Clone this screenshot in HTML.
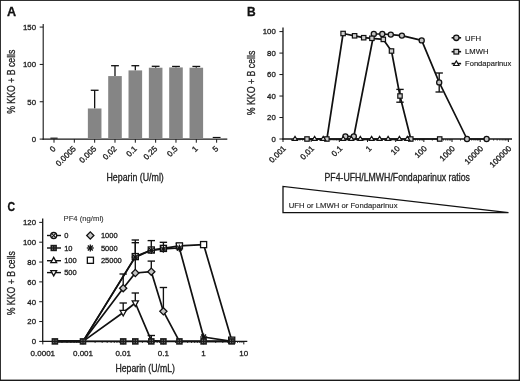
<!DOCTYPE html>
<html><head><meta charset="utf-8"><title>Figure</title><style>html,body{margin:0;padding:0;background:#fff;}svg{display:block;filter:grayscale(1) blur(0.3px);}</style></head><body>
<svg width="520" height="381" viewBox="0 0 520 381" font-family="Liberation Sans, sans-serif">
<rect x="0" y="0" width="520" height="381" fill="#fff"/>
<rect x="0" y="0" width="520" height="0.9" fill="#1a1a1a"/>
<rect x="0" y="0" width="0.9" height="381" fill="#1a1a1a"/>
<rect x="518.7" y="0" width="1.3" height="381" fill="#1a1a1a"/>
<rect x="0" y="379.6" width="520" height="1.4" fill="#1a1a1a"/>
<text x="6.9" y="15.7" font-size="12.6" text-anchor="start" fill="#111" stroke="#111" stroke-width="0.3" font-weight="bold">A</text>
<text x="247" y="15.7" font-size="12" text-anchor="start" fill="#111" stroke="#111" stroke-width="0.3" font-weight="bold">B</text>
<text x="7.6" y="210.8" font-size="12" text-anchor="start" fill="#111" stroke="#111" stroke-width="0.3" textLength="7.6" lengthAdjust="spacingAndGlyphs" font-weight="bold">C</text>
<line x1="43.20" y1="24.00" x2="43.20" y2="139.65" stroke="#161616" stroke-width="1.1" stroke-linecap="butt"/>
<line x1="42.65" y1="139.10" x2="227.30" y2="139.10" stroke="#161616" stroke-width="1.1" stroke-linecap="butt"/>
<line x1="39.70" y1="139.10" x2="43.20" y2="139.10" stroke="#161616" stroke-width="1" stroke-linecap="butt"/>
<text x="36" y="141.9" font-size="7.8" text-anchor="end" fill="#222" stroke="#222" stroke-width="0.3">0</text>
<line x1="39.70" y1="101.76" x2="43.20" y2="101.76" stroke="#161616" stroke-width="1" stroke-linecap="butt"/>
<text x="36" y="104.56499999999998" font-size="7.8" text-anchor="end" fill="#222" stroke="#222" stroke-width="0.3">50</text>
<line x1="39.70" y1="64.43" x2="43.20" y2="64.43" stroke="#161616" stroke-width="1" stroke-linecap="butt"/>
<text x="36" y="67.22999999999999" font-size="7.8" text-anchor="end" fill="#222" stroke="#222" stroke-width="0.3">100</text>
<line x1="39.70" y1="27.09" x2="43.20" y2="27.09" stroke="#161616" stroke-width="1" stroke-linecap="butt"/>
<text x="36" y="29.894999999999985" font-size="7.8" text-anchor="end" fill="#222" stroke="#222" stroke-width="0.3">150</text>
<line x1="54.00" y1="139.10" x2="54.00" y2="142.70" stroke="#161616" stroke-width="1" stroke-linecap="butt"/>
<rect x="50.40" y="137.60" width="7.2" height="1.1" fill="#111"/>
<text x="56.2" y="149.2" font-size="8.1" text-anchor="end" fill="#222" stroke="#222" stroke-width="0.3" transform="rotate(-45 56.2 149.2)">0</text>
<line x1="74.33" y1="139.10" x2="74.33" y2="142.70" stroke="#161616" stroke-width="1" stroke-linecap="butt"/>
<text x="76.53" y="149.2" font-size="8.1" text-anchor="end" fill="#222" stroke="#222" stroke-width="0.3" transform="rotate(-45 76.53 149.2)">0.0005</text>
<line x1="94.66" y1="139.10" x2="94.66" y2="142.70" stroke="#161616" stroke-width="1" stroke-linecap="butt"/>
<line x1="94.66" y1="108.49" x2="94.66" y2="90.27" stroke="#111" stroke-width="1.3" stroke-linecap="butt"/>
<line x1="90.76" y1="90.27" x2="98.56" y2="90.27" stroke="#111" stroke-width="1.3" stroke-linecap="butt"/>
<rect x="87.86" y="108.49" width="13.6" height="30.11" fill="#858585"/>
<text x="96.86" y="149.2" font-size="8.1" text-anchor="end" fill="#222" stroke="#222" stroke-width="0.3" transform="rotate(-45 96.86 149.2)">0.005</text>
<line x1="114.99" y1="139.10" x2="114.99" y2="142.70" stroke="#161616" stroke-width="1" stroke-linecap="butt"/>
<line x1="114.99" y1="76.08" x2="114.99" y2="65.70" stroke="#111" stroke-width="1.3" stroke-linecap="butt"/>
<line x1="111.09" y1="65.70" x2="118.89" y2="65.70" stroke="#111" stroke-width="1.3" stroke-linecap="butt"/>
<rect x="108.19" y="76.08" width="13.6" height="62.52" fill="#858585"/>
<text x="117.19" y="149.2" font-size="8.1" text-anchor="end" fill="#222" stroke="#222" stroke-width="0.3" transform="rotate(-45 117.19 149.2)">0.02</text>
<line x1="135.32" y1="139.10" x2="135.32" y2="142.70" stroke="#161616" stroke-width="1" stroke-linecap="butt"/>
<line x1="135.32" y1="70.40" x2="135.32" y2="65.70" stroke="#111" stroke-width="1.3" stroke-linecap="butt"/>
<line x1="131.42" y1="65.70" x2="139.22" y2="65.70" stroke="#111" stroke-width="1.3" stroke-linecap="butt"/>
<rect x="128.52" y="70.40" width="13.6" height="68.20" fill="#858585"/>
<text x="137.52" y="149.2" font-size="8.1" text-anchor="end" fill="#222" stroke="#222" stroke-width="0.3" transform="rotate(-45 137.52 149.2)">0.1</text>
<line x1="155.65" y1="139.10" x2="155.65" y2="142.70" stroke="#161616" stroke-width="1" stroke-linecap="butt"/>
<line x1="155.65" y1="67.72" x2="155.65" y2="66.30" stroke="#111" stroke-width="1.3" stroke-linecap="butt"/>
<line x1="151.75" y1="66.30" x2="159.55" y2="66.30" stroke="#111" stroke-width="1.3" stroke-linecap="butt"/>
<rect x="148.85" y="67.72" width="13.6" height="70.88" fill="#858585"/>
<text x="157.85" y="149.2" font-size="8.1" text-anchor="end" fill="#222" stroke="#222" stroke-width="0.3" transform="rotate(-45 157.85 149.2)">0.25</text>
<line x1="175.98" y1="139.10" x2="175.98" y2="142.70" stroke="#161616" stroke-width="1" stroke-linecap="butt"/>
<line x1="175.98" y1="67.42" x2="175.98" y2="66.45" stroke="#111" stroke-width="1.3" stroke-linecap="butt"/>
<line x1="172.08" y1="66.45" x2="179.88" y2="66.45" stroke="#111" stroke-width="1.3" stroke-linecap="butt"/>
<rect x="169.18" y="67.42" width="13.6" height="71.18" fill="#858585"/>
<text x="178.18" y="149.2" font-size="8.1" text-anchor="end" fill="#222" stroke="#222" stroke-width="0.3" transform="rotate(-45 178.18 149.2)">0.5</text>
<line x1="196.31" y1="139.10" x2="196.31" y2="142.70" stroke="#161616" stroke-width="1" stroke-linecap="butt"/>
<line x1="196.31" y1="67.72" x2="196.31" y2="66.45" stroke="#111" stroke-width="1.3" stroke-linecap="butt"/>
<line x1="192.41" y1="66.45" x2="200.21" y2="66.45" stroke="#111" stroke-width="1.3" stroke-linecap="butt"/>
<rect x="189.51" y="67.72" width="13.6" height="70.88" fill="#858585"/>
<text x="198.51" y="149.2" font-size="8.1" text-anchor="end" fill="#222" stroke="#222" stroke-width="0.3" transform="rotate(-45 198.51 149.2)">1</text>
<line x1="216.64" y1="139.10" x2="216.64" y2="142.70" stroke="#161616" stroke-width="1" stroke-linecap="butt"/>
<rect x="212.74" y="136.90" width="7.8" height="1.1" fill="#111"/>
<rect x="209.84" y="138.00" width="13.6" height="0.7" fill="#999"/>
<text x="218.84" y="149.2" font-size="8.1" text-anchor="end" fill="#222" stroke="#222" stroke-width="0.3" transform="rotate(-45 218.84 149.2)">5</text>
<text x="106.5" y="181.3" font-size="10.2" text-anchor="start" fill="#222" stroke="#222" stroke-width="0.3" textLength="57.3" lengthAdjust="spacingAndGlyphs">Heparin (U/ml)</text>
<text x="15.4" y="113.8" font-size="10.2" text-anchor="start" fill="#222" stroke="#222" stroke-width="0.3" textLength="64.2" lengthAdjust="spacingAndGlyphs" transform="rotate(-90 15.4 113.8)">% KKO + B cells</text>
<line x1="283.00" y1="27.50" x2="283.00" y2="139.60" stroke="#161616" stroke-width="1.3" stroke-linecap="butt"/>
<line x1="282.40" y1="139.00" x2="512.00" y2="139.00" stroke="#161616" stroke-width="1.3" stroke-linecap="butt"/>
<line x1="279.40" y1="139.00" x2="283.00" y2="139.00" stroke="#161616" stroke-width="1" stroke-linecap="butt"/>
<text x="275.8" y="141.8" font-size="7.8" text-anchor="end" fill="#222" stroke="#222" stroke-width="0.3">0</text>
<line x1="279.40" y1="117.52" x2="283.00" y2="117.52" stroke="#161616" stroke-width="1" stroke-linecap="butt"/>
<text x="275.8" y="120.32" font-size="7.8" text-anchor="end" fill="#222" stroke="#222" stroke-width="0.3">20</text>
<line x1="279.40" y1="96.04" x2="283.00" y2="96.04" stroke="#161616" stroke-width="1" stroke-linecap="butt"/>
<text x="275.8" y="98.83999999999999" font-size="7.8" text-anchor="end" fill="#222" stroke="#222" stroke-width="0.3">40</text>
<line x1="279.40" y1="74.56" x2="283.00" y2="74.56" stroke="#161616" stroke-width="1" stroke-linecap="butt"/>
<text x="275.8" y="77.36" font-size="7.8" text-anchor="end" fill="#222" stroke="#222" stroke-width="0.3">60</text>
<line x1="279.40" y1="53.08" x2="283.00" y2="53.08" stroke="#161616" stroke-width="1" stroke-linecap="butt"/>
<text x="275.8" y="55.879999999999995" font-size="7.8" text-anchor="end" fill="#222" stroke="#222" stroke-width="0.3">80</text>
<line x1="279.40" y1="31.60" x2="283.00" y2="31.60" stroke="#161616" stroke-width="1" stroke-linecap="butt"/>
<text x="275.8" y="34.39999999999999" font-size="7.8" text-anchor="end" fill="#222" stroke="#222" stroke-width="0.3">100</text>
<line x1="283.00" y1="139.00" x2="283.00" y2="142.00" stroke="#161616" stroke-width="1" stroke-linecap="butt"/>
<line x1="291.48" y1="139.00" x2="291.48" y2="140.60" stroke="#161616" stroke-width="0.8" stroke-linecap="butt"/>
<line x1="296.44" y1="139.00" x2="296.44" y2="140.60" stroke="#161616" stroke-width="0.8" stroke-linecap="butt"/>
<line x1="299.96" y1="139.00" x2="299.96" y2="140.60" stroke="#161616" stroke-width="0.8" stroke-linecap="butt"/>
<line x1="302.69" y1="139.00" x2="302.69" y2="140.60" stroke="#161616" stroke-width="0.8" stroke-linecap="butt"/>
<line x1="304.92" y1="139.00" x2="304.92" y2="140.60" stroke="#161616" stroke-width="0.8" stroke-linecap="butt"/>
<line x1="306.81" y1="139.00" x2="306.81" y2="140.60" stroke="#161616" stroke-width="0.8" stroke-linecap="butt"/>
<line x1="308.44" y1="139.00" x2="308.44" y2="140.60" stroke="#161616" stroke-width="0.8" stroke-linecap="butt"/>
<line x1="309.88" y1="139.00" x2="309.88" y2="140.60" stroke="#161616" stroke-width="0.8" stroke-linecap="butt"/>
<text x="286.5" y="149.0" font-size="8.1" text-anchor="end" fill="#222" stroke="#222" stroke-width="0.3" transform="rotate(-45 286.5 149.0)">0.001</text>
<line x1="311.17" y1="139.00" x2="311.17" y2="142.00" stroke="#161616" stroke-width="1" stroke-linecap="butt"/>
<line x1="319.65" y1="139.00" x2="319.65" y2="140.60" stroke="#161616" stroke-width="0.8" stroke-linecap="butt"/>
<line x1="324.61" y1="139.00" x2="324.61" y2="140.60" stroke="#161616" stroke-width="0.8" stroke-linecap="butt"/>
<line x1="328.13" y1="139.00" x2="328.13" y2="140.60" stroke="#161616" stroke-width="0.8" stroke-linecap="butt"/>
<line x1="330.86" y1="139.00" x2="330.86" y2="140.60" stroke="#161616" stroke-width="0.8" stroke-linecap="butt"/>
<line x1="333.09" y1="139.00" x2="333.09" y2="140.60" stroke="#161616" stroke-width="0.8" stroke-linecap="butt"/>
<line x1="334.98" y1="139.00" x2="334.98" y2="140.60" stroke="#161616" stroke-width="0.8" stroke-linecap="butt"/>
<line x1="336.61" y1="139.00" x2="336.61" y2="140.60" stroke="#161616" stroke-width="0.8" stroke-linecap="butt"/>
<line x1="338.05" y1="139.00" x2="338.05" y2="140.60" stroke="#161616" stroke-width="0.8" stroke-linecap="butt"/>
<text x="314.67" y="149.0" font-size="8.1" text-anchor="end" fill="#222" stroke="#222" stroke-width="0.3" transform="rotate(-45 314.67 149.0)">0.01</text>
<line x1="339.34" y1="139.00" x2="339.34" y2="142.00" stroke="#161616" stroke-width="1" stroke-linecap="butt"/>
<line x1="347.82" y1="139.00" x2="347.82" y2="140.60" stroke="#161616" stroke-width="0.8" stroke-linecap="butt"/>
<line x1="352.78" y1="139.00" x2="352.78" y2="140.60" stroke="#161616" stroke-width="0.8" stroke-linecap="butt"/>
<line x1="356.30" y1="139.00" x2="356.30" y2="140.60" stroke="#161616" stroke-width="0.8" stroke-linecap="butt"/>
<line x1="359.03" y1="139.00" x2="359.03" y2="140.60" stroke="#161616" stroke-width="0.8" stroke-linecap="butt"/>
<line x1="361.26" y1="139.00" x2="361.26" y2="140.60" stroke="#161616" stroke-width="0.8" stroke-linecap="butt"/>
<line x1="363.15" y1="139.00" x2="363.15" y2="140.60" stroke="#161616" stroke-width="0.8" stroke-linecap="butt"/>
<line x1="364.78" y1="139.00" x2="364.78" y2="140.60" stroke="#161616" stroke-width="0.8" stroke-linecap="butt"/>
<line x1="366.22" y1="139.00" x2="366.22" y2="140.60" stroke="#161616" stroke-width="0.8" stroke-linecap="butt"/>
<text x="342.84" y="149.0" font-size="8.1" text-anchor="end" fill="#222" stroke="#222" stroke-width="0.3" transform="rotate(-45 342.84 149.0)">0.1</text>
<line x1="367.51" y1="139.00" x2="367.51" y2="142.00" stroke="#161616" stroke-width="1" stroke-linecap="butt"/>
<line x1="375.99" y1="139.00" x2="375.99" y2="140.60" stroke="#161616" stroke-width="0.8" stroke-linecap="butt"/>
<line x1="380.95" y1="139.00" x2="380.95" y2="140.60" stroke="#161616" stroke-width="0.8" stroke-linecap="butt"/>
<line x1="384.47" y1="139.00" x2="384.47" y2="140.60" stroke="#161616" stroke-width="0.8" stroke-linecap="butt"/>
<line x1="387.20" y1="139.00" x2="387.20" y2="140.60" stroke="#161616" stroke-width="0.8" stroke-linecap="butt"/>
<line x1="389.43" y1="139.00" x2="389.43" y2="140.60" stroke="#161616" stroke-width="0.8" stroke-linecap="butt"/>
<line x1="391.32" y1="139.00" x2="391.32" y2="140.60" stroke="#161616" stroke-width="0.8" stroke-linecap="butt"/>
<line x1="392.95" y1="139.00" x2="392.95" y2="140.60" stroke="#161616" stroke-width="0.8" stroke-linecap="butt"/>
<line x1="394.39" y1="139.00" x2="394.39" y2="140.60" stroke="#161616" stroke-width="0.8" stroke-linecap="butt"/>
<text x="372.21" y="149.0" font-size="8.1" text-anchor="end" fill="#222" stroke="#222" stroke-width="0.3" transform="rotate(-45 372.21 149.0)">1</text>
<line x1="395.68" y1="139.00" x2="395.68" y2="142.00" stroke="#161616" stroke-width="1" stroke-linecap="butt"/>
<line x1="404.16" y1="139.00" x2="404.16" y2="140.60" stroke="#161616" stroke-width="0.8" stroke-linecap="butt"/>
<line x1="409.12" y1="139.00" x2="409.12" y2="140.60" stroke="#161616" stroke-width="0.8" stroke-linecap="butt"/>
<line x1="412.64" y1="139.00" x2="412.64" y2="140.60" stroke="#161616" stroke-width="0.8" stroke-linecap="butt"/>
<line x1="415.37" y1="139.00" x2="415.37" y2="140.60" stroke="#161616" stroke-width="0.8" stroke-linecap="butt"/>
<line x1="417.60" y1="139.00" x2="417.60" y2="140.60" stroke="#161616" stroke-width="0.8" stroke-linecap="butt"/>
<line x1="419.49" y1="139.00" x2="419.49" y2="140.60" stroke="#161616" stroke-width="0.8" stroke-linecap="butt"/>
<line x1="421.12" y1="139.00" x2="421.12" y2="140.60" stroke="#161616" stroke-width="0.8" stroke-linecap="butt"/>
<line x1="422.56" y1="139.00" x2="422.56" y2="140.60" stroke="#161616" stroke-width="0.8" stroke-linecap="butt"/>
<text x="400.38" y="149.0" font-size="8.1" text-anchor="end" fill="#222" stroke="#222" stroke-width="0.3" transform="rotate(-45 400.38 149.0)">10</text>
<line x1="423.85" y1="139.00" x2="423.85" y2="142.00" stroke="#161616" stroke-width="1" stroke-linecap="butt"/>
<line x1="432.33" y1="139.00" x2="432.33" y2="140.60" stroke="#161616" stroke-width="0.8" stroke-linecap="butt"/>
<line x1="437.29" y1="139.00" x2="437.29" y2="140.60" stroke="#161616" stroke-width="0.8" stroke-linecap="butt"/>
<line x1="440.81" y1="139.00" x2="440.81" y2="140.60" stroke="#161616" stroke-width="0.8" stroke-linecap="butt"/>
<line x1="443.54" y1="139.00" x2="443.54" y2="140.60" stroke="#161616" stroke-width="0.8" stroke-linecap="butt"/>
<line x1="445.77" y1="139.00" x2="445.77" y2="140.60" stroke="#161616" stroke-width="0.8" stroke-linecap="butt"/>
<line x1="447.66" y1="139.00" x2="447.66" y2="140.60" stroke="#161616" stroke-width="0.8" stroke-linecap="butt"/>
<line x1="449.29" y1="139.00" x2="449.29" y2="140.60" stroke="#161616" stroke-width="0.8" stroke-linecap="butt"/>
<line x1="450.73" y1="139.00" x2="450.73" y2="140.60" stroke="#161616" stroke-width="0.8" stroke-linecap="butt"/>
<text x="427.35" y="149.0" font-size="8.1" text-anchor="end" fill="#222" stroke="#222" stroke-width="0.3" transform="rotate(-45 427.35 149.0)">100</text>
<line x1="452.02" y1="139.00" x2="452.02" y2="142.00" stroke="#161616" stroke-width="1" stroke-linecap="butt"/>
<line x1="460.50" y1="139.00" x2="460.50" y2="140.60" stroke="#161616" stroke-width="0.8" stroke-linecap="butt"/>
<line x1="465.46" y1="139.00" x2="465.46" y2="140.60" stroke="#161616" stroke-width="0.8" stroke-linecap="butt"/>
<line x1="468.98" y1="139.00" x2="468.98" y2="140.60" stroke="#161616" stroke-width="0.8" stroke-linecap="butt"/>
<line x1="471.71" y1="139.00" x2="471.71" y2="140.60" stroke="#161616" stroke-width="0.8" stroke-linecap="butt"/>
<line x1="473.94" y1="139.00" x2="473.94" y2="140.60" stroke="#161616" stroke-width="0.8" stroke-linecap="butt"/>
<line x1="475.83" y1="139.00" x2="475.83" y2="140.60" stroke="#161616" stroke-width="0.8" stroke-linecap="butt"/>
<line x1="477.46" y1="139.00" x2="477.46" y2="140.60" stroke="#161616" stroke-width="0.8" stroke-linecap="butt"/>
<line x1="478.90" y1="139.00" x2="478.90" y2="140.60" stroke="#161616" stroke-width="0.8" stroke-linecap="butt"/>
<text x="455.52" y="149.0" font-size="8.1" text-anchor="end" fill="#222" stroke="#222" stroke-width="0.3" transform="rotate(-45 455.52 149.0)">1000</text>
<line x1="480.19" y1="139.00" x2="480.19" y2="142.00" stroke="#161616" stroke-width="1" stroke-linecap="butt"/>
<line x1="488.67" y1="139.00" x2="488.67" y2="140.60" stroke="#161616" stroke-width="0.8" stroke-linecap="butt"/>
<line x1="493.63" y1="139.00" x2="493.63" y2="140.60" stroke="#161616" stroke-width="0.8" stroke-linecap="butt"/>
<line x1="497.15" y1="139.00" x2="497.15" y2="140.60" stroke="#161616" stroke-width="0.8" stroke-linecap="butt"/>
<line x1="499.88" y1="139.00" x2="499.88" y2="140.60" stroke="#161616" stroke-width="0.8" stroke-linecap="butt"/>
<line x1="502.11" y1="139.00" x2="502.11" y2="140.60" stroke="#161616" stroke-width="0.8" stroke-linecap="butt"/>
<line x1="504.00" y1="139.00" x2="504.00" y2="140.60" stroke="#161616" stroke-width="0.8" stroke-linecap="butt"/>
<line x1="505.63" y1="139.00" x2="505.63" y2="140.60" stroke="#161616" stroke-width="0.8" stroke-linecap="butt"/>
<line x1="507.07" y1="139.00" x2="507.07" y2="140.60" stroke="#161616" stroke-width="0.8" stroke-linecap="butt"/>
<text x="483.69" y="149.0" font-size="8.1" text-anchor="end" fill="#222" stroke="#222" stroke-width="0.3" transform="rotate(-45 483.69 149.0)">10000</text>
<line x1="508.36" y1="139.00" x2="508.36" y2="142.00" stroke="#161616" stroke-width="1" stroke-linecap="butt"/>
<text x="511.86" y="149.0" font-size="8.1" text-anchor="end" fill="#222" stroke="#222" stroke-width="0.3" transform="rotate(-45 511.86 149.0)">100000</text>
<text x="324.5" y="180.9" font-size="10.2" text-anchor="start" fill="#222" stroke="#222" stroke-width="0.3" textLength="145.4" lengthAdjust="spacingAndGlyphs">PF4-UFH/LMWH/Fondaparinux ratios</text>
<text x="254.7" y="115.2" font-size="10.2" text-anchor="start" fill="#222" stroke="#222" stroke-width="0.3" textLength="64.5" lengthAdjust="spacingAndGlyphs" transform="rotate(-90 254.7 115.2)">% KKO + B cells</text>
<polyline points="295.00,139.00 314.60,139.00 323.20,139.00 343.20,139.00 351.30,139.00 360.30,139.00 371.60,139.00 379.60,139.00 388.10,139.00 399.40,139.00 407.30,139.00" fill="none" stroke="#111" stroke-width="1.6" stroke-linejoin="round"/>
<polyline points="345.40,136.40 353.80,136.50 373.80,34.00 382.30,34.00 390.80,34.60 401.90,35.60 421.70,40.40 439.20,82.40 467.00,139.00 486.60,139.00" fill="none" stroke="#111" stroke-width="1.7" stroke-linejoin="round"/>
<line x1="439.20" y1="82.40" x2="439.20" y2="73.00" stroke="#111" stroke-width="1.35" stroke-linecap="butt"/>
<line x1="435.50" y1="73.00" x2="442.90" y2="73.00" stroke="#111" stroke-width="1.35" stroke-linecap="butt"/>
<line x1="439.20" y1="82.40" x2="439.20" y2="92.00" stroke="#111" stroke-width="1.35" stroke-linecap="butt"/>
<line x1="435.50" y1="92.00" x2="442.90" y2="92.00" stroke="#111" stroke-width="1.35" stroke-linecap="butt"/>
<circle cx="345.40" cy="136.40" r="2.55" fill="#c4c4c4" stroke="#111" stroke-width="1.3"/>
<circle cx="353.80" cy="136.50" r="2.55" fill="#c4c4c4" stroke="#111" stroke-width="1.3"/>
<circle cx="373.80" cy="34.00" r="2.55" fill="#c4c4c4" stroke="#111" stroke-width="1.3"/>
<circle cx="382.30" cy="34.00" r="2.55" fill="#c4c4c4" stroke="#111" stroke-width="1.3"/>
<circle cx="390.80" cy="34.60" r="2.55" fill="#c4c4c4" stroke="#111" stroke-width="1.3"/>
<circle cx="401.90" cy="35.60" r="2.55" fill="#c4c4c4" stroke="#111" stroke-width="1.3"/>
<circle cx="421.70" cy="40.40" r="2.55" fill="#c4c4c4" stroke="#111" stroke-width="1.3"/>
<circle cx="439.20" cy="82.40" r="2.55" fill="#c4c4c4" stroke="#111" stroke-width="1.3"/>
<circle cx="467.00" cy="139.00" r="2.55" fill="#c4c4c4" stroke="#111" stroke-width="1.3"/>
<circle cx="486.60" cy="139.00" r="2.55" fill="#c4c4c4" stroke="#111" stroke-width="1.3"/>
<polyline points="307.00,139.00 326.90,139.00 343.10,33.50 354.60,35.80 363.70,37.70 371.90,38.30 383.30,39.40 391.50,51.00 400.00,96.00 410.80,139.00 439.70,139.00" fill="none" stroke="#111" stroke-width="1.7" stroke-linejoin="round"/>
<line x1="400.00" y1="96.00" x2="400.00" y2="89.40" stroke="#111" stroke-width="1.35" stroke-linecap="butt"/>
<line x1="396.30" y1="89.40" x2="403.70" y2="89.40" stroke="#111" stroke-width="1.35" stroke-linecap="butt"/>
<line x1="400.00" y1="96.00" x2="400.00" y2="102.20" stroke="#111" stroke-width="1.35" stroke-linecap="butt"/>
<line x1="396.30" y1="102.20" x2="403.70" y2="102.20" stroke="#111" stroke-width="1.35" stroke-linecap="butt"/>
<rect x="304.80" y="136.80" width="4.4" height="4.4" fill="#cfcfcf" stroke="#111" stroke-width="1.2"/>
<rect x="324.70" y="136.80" width="4.4" height="4.4" fill="#cfcfcf" stroke="#111" stroke-width="1.2"/>
<rect x="340.90" y="31.30" width="4.4" height="4.4" fill="#cfcfcf" stroke="#111" stroke-width="1.2"/>
<rect x="352.40" y="33.60" width="4.4" height="4.4" fill="#cfcfcf" stroke="#111" stroke-width="1.2"/>
<rect x="361.50" y="35.50" width="4.4" height="4.4" fill="#cfcfcf" stroke="#111" stroke-width="1.2"/>
<rect x="369.70" y="36.10" width="4.4" height="4.4" fill="#cfcfcf" stroke="#111" stroke-width="1.2"/>
<rect x="381.10" y="37.20" width="4.4" height="4.4" fill="#cfcfcf" stroke="#111" stroke-width="1.2"/>
<rect x="389.30" y="48.80" width="4.4" height="4.4" fill="#cfcfcf" stroke="#111" stroke-width="1.2"/>
<rect x="397.80" y="93.80" width="4.4" height="4.4" fill="#cfcfcf" stroke="#111" stroke-width="1.2"/>
<rect x="408.60" y="136.80" width="4.4" height="4.4" fill="#cfcfcf" stroke="#111" stroke-width="1.2"/>
<rect x="437.50" y="136.80" width="4.4" height="4.4" fill="#cfcfcf" stroke="#111" stroke-width="1.2"/>
<polygon points="295.00,136.30 297.50,140.40 292.50,140.40" fill="#fff" stroke="#111" stroke-width="1.2" stroke-linejoin="miter"/>
<polygon points="314.60,136.30 317.10,140.40 312.10,140.40" fill="#fff" stroke="#111" stroke-width="1.2" stroke-linejoin="miter"/>
<polygon points="323.20,136.30 325.70,140.40 320.70,140.40" fill="#fff" stroke="#111" stroke-width="1.2" stroke-linejoin="miter"/>
<polygon points="343.20,136.30 345.70,140.40 340.70,140.40" fill="#fff" stroke="#111" stroke-width="1.2" stroke-linejoin="miter"/>
<polygon points="351.30,136.30 353.80,140.40 348.80,140.40" fill="#fff" stroke="#111" stroke-width="1.2" stroke-linejoin="miter"/>
<polygon points="360.30,136.30 362.80,140.40 357.80,140.40" fill="#fff" stroke="#111" stroke-width="1.2" stroke-linejoin="miter"/>
<polygon points="371.60,136.30 374.10,140.40 369.10,140.40" fill="#fff" stroke="#111" stroke-width="1.2" stroke-linejoin="miter"/>
<polygon points="379.60,136.30 382.10,140.40 377.10,140.40" fill="#fff" stroke="#111" stroke-width="1.2" stroke-linejoin="miter"/>
<polygon points="388.10,136.30 390.60,140.40 385.60,140.40" fill="#fff" stroke="#111" stroke-width="1.2" stroke-linejoin="miter"/>
<polygon points="399.40,136.30 401.90,140.40 396.90,140.40" fill="#fff" stroke="#111" stroke-width="1.2" stroke-linejoin="miter"/>
<polygon points="407.30,136.30 409.80,140.40 404.80,140.40" fill="#fff" stroke="#111" stroke-width="1.2" stroke-linejoin="miter"/>
<line x1="451.60" y1="37.80" x2="461.10" y2="37.80" stroke="#111" stroke-width="1.6" stroke-linecap="butt"/>
<circle cx="456.30" cy="37.80" r="2.7" fill="#c4c4c4" stroke="#111" stroke-width="1.3"/>
<text x="465.1" y="40.5" font-size="7.5" text-anchor="start" fill="#222" stroke="#222" stroke-width="0.15" textLength="15.9" lengthAdjust="spacingAndGlyphs">UFH</text>
<line x1="451.60" y1="51.70" x2="461.10" y2="51.70" stroke="#111" stroke-width="1.6" stroke-linecap="butt"/>
<rect x="453.95" y="49.35" width="4.7" height="4.7" fill="#cfcfcf" stroke="#111" stroke-width="1.2"/>
<text x="465.1" y="54.400000000000006" font-size="7.5" text-anchor="start" fill="#222" stroke="#222" stroke-width="0.15" textLength="23.4" lengthAdjust="spacingAndGlyphs">LMWH</text>
<line x1="451.60" y1="63.60" x2="461.10" y2="63.60" stroke="#111" stroke-width="1.6" stroke-linecap="butt"/>
<polygon points="456.30,60.90 459.00,65.50 453.60,65.50" fill="#fff" stroke="#111" stroke-width="1.1" stroke-linejoin="miter"/>
<text x="465.1" y="66.3" font-size="7.5" text-anchor="start" fill="#222" stroke="#222" stroke-width="0.15" textLength="46.2" lengthAdjust="spacingAndGlyphs">Fondaparinux</text>
<polygon points="283,186.4 283,212.7 508.5,212.7" fill="none" stroke="#111" stroke-width="1.3" stroke-linejoin="miter"/>
<text x="288.8" y="208" font-size="7.5" text-anchor="start" fill="#222" stroke="#222" stroke-width="0.12" textLength="108.7" lengthAdjust="spacingAndGlyphs">UFH or LMWH or Fondaparinux</text>
<line x1="42.70" y1="218.60" x2="42.70" y2="342.00" stroke="#161616" stroke-width="1.3" stroke-linecap="butt"/>
<line x1="42.10" y1="341.40" x2="247.30" y2="341.40" stroke="#161616" stroke-width="1.3" stroke-linecap="butt"/>
<line x1="39.20" y1="341.40" x2="42.70" y2="341.40" stroke="#161616" stroke-width="1" stroke-linecap="butt"/>
<text x="36" y="344.2" font-size="7.8" text-anchor="end" fill="#222" stroke="#222" stroke-width="0.3">0</text>
<line x1="39.20" y1="321.56" x2="42.70" y2="321.56" stroke="#161616" stroke-width="1" stroke-linecap="butt"/>
<text x="36" y="324.36" font-size="7.8" text-anchor="end" fill="#222" stroke="#222" stroke-width="0.3">20</text>
<line x1="39.20" y1="301.72" x2="42.70" y2="301.72" stroke="#161616" stroke-width="1" stroke-linecap="butt"/>
<text x="36" y="304.52" font-size="7.8" text-anchor="end" fill="#222" stroke="#222" stroke-width="0.3">40</text>
<line x1="39.20" y1="281.88" x2="42.70" y2="281.88" stroke="#161616" stroke-width="1" stroke-linecap="butt"/>
<text x="36" y="284.68" font-size="7.8" text-anchor="end" fill="#222" stroke="#222" stroke-width="0.3">60</text>
<line x1="39.20" y1="262.04" x2="42.70" y2="262.04" stroke="#161616" stroke-width="1" stroke-linecap="butt"/>
<text x="36" y="264.84" font-size="7.8" text-anchor="end" fill="#222" stroke="#222" stroke-width="0.3">80</text>
<line x1="39.20" y1="242.20" x2="42.70" y2="242.20" stroke="#161616" stroke-width="1" stroke-linecap="butt"/>
<text x="36" y="245.0" font-size="7.8" text-anchor="end" fill="#222" stroke="#222" stroke-width="0.3">100</text>
<line x1="39.20" y1="222.36" x2="42.70" y2="222.36" stroke="#161616" stroke-width="1" stroke-linecap="butt"/>
<text x="36" y="225.16" font-size="7.8" text-anchor="end" fill="#222" stroke="#222" stroke-width="0.3">120</text>
<line x1="42.80" y1="341.40" x2="42.80" y2="344.40" stroke="#161616" stroke-width="1" stroke-linecap="butt"/>
<line x1="54.90" y1="341.40" x2="54.90" y2="343.00" stroke="#161616" stroke-width="0.8" stroke-linecap="butt"/>
<line x1="61.98" y1="341.40" x2="61.98" y2="343.00" stroke="#161616" stroke-width="0.8" stroke-linecap="butt"/>
<line x1="67.00" y1="341.40" x2="67.00" y2="343.00" stroke="#161616" stroke-width="0.8" stroke-linecap="butt"/>
<line x1="70.90" y1="341.40" x2="70.90" y2="343.00" stroke="#161616" stroke-width="0.8" stroke-linecap="butt"/>
<line x1="74.08" y1="341.40" x2="74.08" y2="343.00" stroke="#161616" stroke-width="0.8" stroke-linecap="butt"/>
<line x1="76.77" y1="341.40" x2="76.77" y2="343.00" stroke="#161616" stroke-width="0.8" stroke-linecap="butt"/>
<line x1="79.10" y1="341.40" x2="79.10" y2="343.00" stroke="#161616" stroke-width="0.8" stroke-linecap="butt"/>
<line x1="81.16" y1="341.40" x2="81.16" y2="343.00" stroke="#161616" stroke-width="0.8" stroke-linecap="butt"/>
<text x="42.8" y="356.2" font-size="8.0" text-anchor="middle" fill="#222" stroke="#222" stroke-width="0.3">0.0001</text>
<line x1="83.00" y1="341.40" x2="83.00" y2="344.40" stroke="#161616" stroke-width="1" stroke-linecap="butt"/>
<line x1="95.10" y1="341.40" x2="95.10" y2="343.00" stroke="#161616" stroke-width="0.8" stroke-linecap="butt"/>
<line x1="102.18" y1="341.40" x2="102.18" y2="343.00" stroke="#161616" stroke-width="0.8" stroke-linecap="butt"/>
<line x1="107.20" y1="341.40" x2="107.20" y2="343.00" stroke="#161616" stroke-width="0.8" stroke-linecap="butt"/>
<line x1="111.10" y1="341.40" x2="111.10" y2="343.00" stroke="#161616" stroke-width="0.8" stroke-linecap="butt"/>
<line x1="114.28" y1="341.40" x2="114.28" y2="343.00" stroke="#161616" stroke-width="0.8" stroke-linecap="butt"/>
<line x1="116.97" y1="341.40" x2="116.97" y2="343.00" stroke="#161616" stroke-width="0.8" stroke-linecap="butt"/>
<line x1="119.30" y1="341.40" x2="119.30" y2="343.00" stroke="#161616" stroke-width="0.8" stroke-linecap="butt"/>
<line x1="121.36" y1="341.40" x2="121.36" y2="343.00" stroke="#161616" stroke-width="0.8" stroke-linecap="butt"/>
<text x="83.0" y="356.2" font-size="8.0" text-anchor="middle" fill="#222" stroke="#222" stroke-width="0.3">0.001</text>
<line x1="123.20" y1="341.40" x2="123.20" y2="344.40" stroke="#161616" stroke-width="1" stroke-linecap="butt"/>
<line x1="135.30" y1="341.40" x2="135.30" y2="343.00" stroke="#161616" stroke-width="0.8" stroke-linecap="butt"/>
<line x1="142.38" y1="341.40" x2="142.38" y2="343.00" stroke="#161616" stroke-width="0.8" stroke-linecap="butt"/>
<line x1="147.40" y1="341.40" x2="147.40" y2="343.00" stroke="#161616" stroke-width="0.8" stroke-linecap="butt"/>
<line x1="151.30" y1="341.40" x2="151.30" y2="343.00" stroke="#161616" stroke-width="0.8" stroke-linecap="butt"/>
<line x1="154.48" y1="341.40" x2="154.48" y2="343.00" stroke="#161616" stroke-width="0.8" stroke-linecap="butt"/>
<line x1="157.17" y1="341.40" x2="157.17" y2="343.00" stroke="#161616" stroke-width="0.8" stroke-linecap="butt"/>
<line x1="159.50" y1="341.40" x2="159.50" y2="343.00" stroke="#161616" stroke-width="0.8" stroke-linecap="butt"/>
<line x1="161.56" y1="341.40" x2="161.56" y2="343.00" stroke="#161616" stroke-width="0.8" stroke-linecap="butt"/>
<text x="123.2" y="356.2" font-size="8.0" text-anchor="middle" fill="#222" stroke="#222" stroke-width="0.3">0.01</text>
<line x1="163.40" y1="341.40" x2="163.40" y2="344.40" stroke="#161616" stroke-width="1" stroke-linecap="butt"/>
<line x1="175.50" y1="341.40" x2="175.50" y2="343.00" stroke="#161616" stroke-width="0.8" stroke-linecap="butt"/>
<line x1="182.58" y1="341.40" x2="182.58" y2="343.00" stroke="#161616" stroke-width="0.8" stroke-linecap="butt"/>
<line x1="187.60" y1="341.40" x2="187.60" y2="343.00" stroke="#161616" stroke-width="0.8" stroke-linecap="butt"/>
<line x1="191.50" y1="341.40" x2="191.50" y2="343.00" stroke="#161616" stroke-width="0.8" stroke-linecap="butt"/>
<line x1="194.68" y1="341.40" x2="194.68" y2="343.00" stroke="#161616" stroke-width="0.8" stroke-linecap="butt"/>
<line x1="197.37" y1="341.40" x2="197.37" y2="343.00" stroke="#161616" stroke-width="0.8" stroke-linecap="butt"/>
<line x1="199.70" y1="341.40" x2="199.70" y2="343.00" stroke="#161616" stroke-width="0.8" stroke-linecap="butt"/>
<line x1="201.76" y1="341.40" x2="201.76" y2="343.00" stroke="#161616" stroke-width="0.8" stroke-linecap="butt"/>
<text x="163.4" y="356.2" font-size="8.0" text-anchor="middle" fill="#222" stroke="#222" stroke-width="0.3">0.1</text>
<line x1="203.60" y1="341.40" x2="203.60" y2="344.40" stroke="#161616" stroke-width="1" stroke-linecap="butt"/>
<line x1="215.70" y1="341.40" x2="215.70" y2="343.00" stroke="#161616" stroke-width="0.8" stroke-linecap="butt"/>
<line x1="222.78" y1="341.40" x2="222.78" y2="343.00" stroke="#161616" stroke-width="0.8" stroke-linecap="butt"/>
<line x1="227.80" y1="341.40" x2="227.80" y2="343.00" stroke="#161616" stroke-width="0.8" stroke-linecap="butt"/>
<line x1="231.70" y1="341.40" x2="231.70" y2="343.00" stroke="#161616" stroke-width="0.8" stroke-linecap="butt"/>
<line x1="234.88" y1="341.40" x2="234.88" y2="343.00" stroke="#161616" stroke-width="0.8" stroke-linecap="butt"/>
<line x1="237.57" y1="341.40" x2="237.57" y2="343.00" stroke="#161616" stroke-width="0.8" stroke-linecap="butt"/>
<line x1="239.90" y1="341.40" x2="239.90" y2="343.00" stroke="#161616" stroke-width="0.8" stroke-linecap="butt"/>
<line x1="241.96" y1="341.40" x2="241.96" y2="343.00" stroke="#161616" stroke-width="0.8" stroke-linecap="butt"/>
<text x="203.6" y="356.2" font-size="8.0" text-anchor="middle" fill="#222" stroke="#222" stroke-width="0.3">1</text>
<line x1="243.80" y1="341.40" x2="243.80" y2="344.40" stroke="#161616" stroke-width="1" stroke-linecap="butt"/>
<text x="243.8" y="356.2" font-size="8.0" text-anchor="middle" fill="#222" stroke="#222" stroke-width="0.3">10</text>
<text x="115.4" y="371.9" font-size="10.2" text-anchor="start" fill="#222" stroke="#222" stroke-width="0.3" textLength="59.6" lengthAdjust="spacingAndGlyphs">Heparin (U/mL)</text>
<text x="15.4" y="315.3" font-size="10.2" text-anchor="start" fill="#222" stroke="#222" stroke-width="0.3" textLength="64.2" lengthAdjust="spacingAndGlyphs" transform="rotate(-90 15.4 315.3)">% KKO + B cells</text>
<text x="63.5" y="221.2" font-size="7.5" text-anchor="start" fill="#333" stroke="#333" stroke-width="0.12" textLength="40.2" lengthAdjust="spacingAndGlyphs">PF4 (ng/ml)</text>
<polyline points="54.90,341.40 83.00,341.40 123.20,341.40 135.30,341.40 151.30,341.40 163.40,341.40 179.40,341.40 203.60,341.40 231.70,341.40" fill="none" stroke="#111" stroke-width="1.6" stroke-linejoin="round"/>
<polyline points="54.90,341.40 83.00,341.40 123.20,312.50 135.30,303.00 151.30,340.60 163.40,341.40" fill="none" stroke="#111" stroke-width="1.7" stroke-linejoin="round"/>
<polyline points="54.90,341.40 83.00,341.40 123.20,288.20 135.30,273.00 151.30,271.70 163.40,311.30 179.40,341.40 203.60,341.40 231.70,341.40" fill="none" stroke="#111" stroke-width="1.7" stroke-linejoin="round"/>
<polyline points="54.90,341.40 83.00,341.40 135.30,257.10 151.30,250.30 163.40,249.00 179.40,248.00 203.60,337.00 231.70,341.40" fill="none" stroke="#111" stroke-width="1.7" stroke-linejoin="round"/>
<polyline points="54.90,341.40 83.00,341.40 135.30,256.60 151.30,250.00 163.40,248.40 179.40,245.90 203.60,244.60 231.70,340.20" fill="none" stroke="#111" stroke-width="1.7" stroke-linejoin="round"/>
<line x1="123.20" y1="312.50" x2="123.20" y2="303.00" stroke="#111" stroke-width="1.35" stroke-linecap="butt"/>
<line x1="119.50" y1="303.00" x2="126.90" y2="303.00" stroke="#111" stroke-width="1.35" stroke-linecap="butt"/>
<line x1="135.30" y1="303.00" x2="135.30" y2="293.00" stroke="#111" stroke-width="1.35" stroke-linecap="butt"/>
<line x1="131.60" y1="293.00" x2="139.00" y2="293.00" stroke="#111" stroke-width="1.35" stroke-linecap="butt"/>
<line x1="123.20" y1="288.20" x2="123.20" y2="274.00" stroke="#111" stroke-width="1.35" stroke-linecap="butt"/>
<line x1="119.50" y1="274.00" x2="126.90" y2="274.00" stroke="#111" stroke-width="1.35" stroke-linecap="butt"/>
<line x1="135.30" y1="273.00" x2="135.30" y2="242.70" stroke="#111" stroke-width="1.35" stroke-linecap="butt"/>
<line x1="131.60" y1="242.70" x2="139.00" y2="242.70" stroke="#111" stroke-width="1.35" stroke-linecap="butt"/>
<line x1="151.30" y1="271.70" x2="151.30" y2="261.10" stroke="#111" stroke-width="1.35" stroke-linecap="butt"/>
<line x1="147.60" y1="261.10" x2="155.00" y2="261.10" stroke="#111" stroke-width="1.35" stroke-linecap="butt"/>
<line x1="163.40" y1="311.30" x2="163.40" y2="287.50" stroke="#111" stroke-width="1.35" stroke-linecap="butt"/>
<line x1="159.70" y1="287.50" x2="167.10" y2="287.50" stroke="#111" stroke-width="1.35" stroke-linecap="butt"/>
<line x1="135.30" y1="257.00" x2="135.30" y2="240.00" stroke="#111" stroke-width="1.35" stroke-linecap="butt"/>
<line x1="131.60" y1="240.00" x2="139.00" y2="240.00" stroke="#111" stroke-width="1.35" stroke-linecap="butt"/>
<line x1="151.30" y1="250.00" x2="151.30" y2="240.60" stroke="#111" stroke-width="1.35" stroke-linecap="butt"/>
<line x1="147.60" y1="240.60" x2="155.00" y2="240.60" stroke="#111" stroke-width="1.35" stroke-linecap="butt"/>
<line x1="163.40" y1="249.00" x2="163.40" y2="242.30" stroke="#111" stroke-width="1.35" stroke-linecap="butt"/>
<line x1="159.70" y1="242.30" x2="167.10" y2="242.30" stroke="#111" stroke-width="1.35" stroke-linecap="butt"/>
<line x1="179.40" y1="246.00" x2="179.40" y2="243.50" stroke="#111" stroke-width="1.35" stroke-linecap="butt"/>
<line x1="175.70" y1="243.50" x2="183.10" y2="243.50" stroke="#111" stroke-width="1.35" stroke-linecap="butt"/>
<line x1="151.30" y1="340.60" x2="151.30" y2="335.50" stroke="#111" stroke-width="1.35" stroke-linecap="butt"/>
<line x1="147.60" y1="335.50" x2="155.00" y2="335.50" stroke="#111" stroke-width="1.35" stroke-linecap="butt"/>
<polygon points="123.20,316.00 126.30,310.40 120.10,310.40" fill="#fff" stroke="#111" stroke-width="1.3" stroke-linejoin="miter"/>
<polygon points="135.30,306.50 138.40,300.90 132.20,300.90" fill="#fff" stroke="#111" stroke-width="1.3" stroke-linejoin="miter"/>
<polygon points="123.20,284.60 126.80,288.20 123.20,291.80 119.60,288.20" fill="#c4c4c4" stroke="#111" stroke-width="1.3"/>
<polygon points="135.30,269.40 138.90,273.00 135.30,276.60 131.70,273.00" fill="#c4c4c4" stroke="#111" stroke-width="1.3"/>
<polygon points="151.30,268.10 154.90,271.70 151.30,275.30 147.70,271.70" fill="#c4c4c4" stroke="#111" stroke-width="1.3"/>
<polygon points="163.40,307.70 167.00,311.30 163.40,314.90 159.80,311.30" fill="#c4c4c4" stroke="#111" stroke-width="1.3"/>
<line x1="131.80" y1="257.10" x2="138.80" y2="257.10" stroke="#111" stroke-width="1.3" stroke-linecap="butt"/>
<line x1="132.83" y1="254.63" x2="137.78" y2="259.57" stroke="#111" stroke-width="1.3" stroke-linecap="butt"/>
<line x1="135.30" y1="253.60" x2="135.30" y2="260.60" stroke="#111" stroke-width="1.3" stroke-linecap="butt"/>
<line x1="137.78" y1="254.63" x2="132.83" y2="259.57" stroke="#111" stroke-width="1.3" stroke-linecap="butt"/>
<line x1="147.80" y1="250.30" x2="154.80" y2="250.30" stroke="#111" stroke-width="1.3" stroke-linecap="butt"/>
<line x1="148.82" y1="247.83" x2="153.77" y2="252.77" stroke="#111" stroke-width="1.3" stroke-linecap="butt"/>
<line x1="151.30" y1="246.80" x2="151.30" y2="253.80" stroke="#111" stroke-width="1.3" stroke-linecap="butt"/>
<line x1="153.77" y1="247.83" x2="148.82" y2="252.77" stroke="#111" stroke-width="1.3" stroke-linecap="butt"/>
<line x1="159.90" y1="249.00" x2="166.90" y2="249.00" stroke="#111" stroke-width="1.3" stroke-linecap="butt"/>
<line x1="160.93" y1="246.53" x2="165.87" y2="251.47" stroke="#111" stroke-width="1.3" stroke-linecap="butt"/>
<line x1="163.40" y1="245.50" x2="163.40" y2="252.50" stroke="#111" stroke-width="1.3" stroke-linecap="butt"/>
<line x1="165.87" y1="246.53" x2="160.93" y2="251.47" stroke="#111" stroke-width="1.3" stroke-linecap="butt"/>
<line x1="175.90" y1="248.00" x2="182.90" y2="248.00" stroke="#111" stroke-width="1.3" stroke-linecap="butt"/>
<line x1="176.92" y1="245.53" x2="181.87" y2="250.47" stroke="#111" stroke-width="1.3" stroke-linecap="butt"/>
<line x1="179.40" y1="244.50" x2="179.40" y2="251.50" stroke="#111" stroke-width="1.3" stroke-linecap="butt"/>
<line x1="181.87" y1="245.53" x2="176.92" y2="250.47" stroke="#111" stroke-width="1.3" stroke-linecap="butt"/>
<line x1="200.10" y1="337.00" x2="207.10" y2="337.00" stroke="#111" stroke-width="1.3" stroke-linecap="butt"/>
<line x1="201.13" y1="334.53" x2="206.07" y2="339.47" stroke="#111" stroke-width="1.3" stroke-linecap="butt"/>
<line x1="203.60" y1="333.50" x2="203.60" y2="340.50" stroke="#111" stroke-width="1.3" stroke-linecap="butt"/>
<line x1="206.07" y1="334.53" x2="201.13" y2="339.47" stroke="#111" stroke-width="1.3" stroke-linecap="butt"/>
<rect x="132.25" y="253.55" width="6.1" height="6.1" fill="#fff" stroke="#111" stroke-width="1.3"/>
<rect x="148.25" y="246.95" width="6.1" height="6.1" fill="#fff" stroke="#111" stroke-width="1.3"/>
<rect x="160.35" y="245.35" width="6.1" height="6.1" fill="#fff" stroke="#111" stroke-width="1.3"/>
<rect x="176.35" y="242.85" width="6.1" height="6.1" fill="#fff" stroke="#111" stroke-width="1.3"/>
<rect x="200.55" y="241.55" width="6.1" height="6.1" fill="#fff" stroke="#111" stroke-width="1.3"/>
<rect x="228.65" y="337.15" width="6.1" height="6.1" fill="#fff" stroke="#111" stroke-width="1.3"/>
<line x1="131.90" y1="257.10" x2="138.70" y2="257.10" stroke="#111" stroke-width="1.3" stroke-linecap="butt"/>
<line x1="132.90" y1="254.70" x2="137.71" y2="259.50" stroke="#111" stroke-width="1.3" stroke-linecap="butt"/>
<line x1="135.30" y1="253.70" x2="135.30" y2="260.50" stroke="#111" stroke-width="1.3" stroke-linecap="butt"/>
<line x1="137.71" y1="254.70" x2="132.90" y2="259.50" stroke="#111" stroke-width="1.3" stroke-linecap="butt"/>
<line x1="147.90" y1="250.30" x2="154.70" y2="250.30" stroke="#111" stroke-width="1.3" stroke-linecap="butt"/>
<line x1="148.89" y1="247.90" x2="153.70" y2="252.70" stroke="#111" stroke-width="1.3" stroke-linecap="butt"/>
<line x1="151.30" y1="246.90" x2="151.30" y2="253.70" stroke="#111" stroke-width="1.3" stroke-linecap="butt"/>
<line x1="153.70" y1="247.90" x2="148.89" y2="252.70" stroke="#111" stroke-width="1.3" stroke-linecap="butt"/>
<line x1="160.00" y1="249.00" x2="166.80" y2="249.00" stroke="#111" stroke-width="1.3" stroke-linecap="butt"/>
<line x1="161.00" y1="246.60" x2="165.80" y2="251.40" stroke="#111" stroke-width="1.3" stroke-linecap="butt"/>
<line x1="163.40" y1="245.60" x2="163.40" y2="252.40" stroke="#111" stroke-width="1.3" stroke-linecap="butt"/>
<line x1="165.80" y1="246.60" x2="161.00" y2="251.40" stroke="#111" stroke-width="1.3" stroke-linecap="butt"/>
<line x1="176.00" y1="248.00" x2="182.80" y2="248.00" stroke="#111" stroke-width="1.3" stroke-linecap="butt"/>
<line x1="176.99" y1="245.60" x2="181.80" y2="250.40" stroke="#111" stroke-width="1.3" stroke-linecap="butt"/>
<line x1="179.40" y1="244.60" x2="179.40" y2="251.40" stroke="#111" stroke-width="1.3" stroke-linecap="butt"/>
<line x1="181.80" y1="245.60" x2="176.99" y2="250.40" stroke="#111" stroke-width="1.3" stroke-linecap="butt"/>
<rect x="51.60" y="338.10" width="6.6" height="6.6" fill="#1c1c1c"/>
<rect x="53.20" y="339.70" width="1.0" height="1.0" fill="#808080"/>
<rect x="55.60" y="339.70" width="1.0" height="1.0" fill="#808080"/>
<rect x="53.20" y="342.10" width="1.0" height="1.0" fill="#808080"/>
<rect x="55.60" y="342.10" width="1.0" height="1.0" fill="#808080"/>
<rect x="79.70" y="338.10" width="6.6" height="6.6" fill="#1c1c1c"/>
<rect x="81.30" y="339.70" width="1.0" height="1.0" fill="#808080"/>
<rect x="83.70" y="339.70" width="1.0" height="1.0" fill="#808080"/>
<rect x="81.30" y="342.10" width="1.0" height="1.0" fill="#808080"/>
<rect x="83.70" y="342.10" width="1.0" height="1.0" fill="#808080"/>
<rect x="119.90" y="338.10" width="6.6" height="6.6" fill="#1c1c1c"/>
<rect x="121.50" y="339.70" width="1.0" height="1.0" fill="#808080"/>
<rect x="123.90" y="339.70" width="1.0" height="1.0" fill="#808080"/>
<rect x="121.50" y="342.10" width="1.0" height="1.0" fill="#808080"/>
<rect x="123.90" y="342.10" width="1.0" height="1.0" fill="#808080"/>
<rect x="132.00" y="338.10" width="6.6" height="6.6" fill="#1c1c1c"/>
<rect x="133.60" y="339.70" width="1.0" height="1.0" fill="#808080"/>
<rect x="136.00" y="339.70" width="1.0" height="1.0" fill="#808080"/>
<rect x="133.60" y="342.10" width="1.0" height="1.0" fill="#808080"/>
<rect x="136.00" y="342.10" width="1.0" height="1.0" fill="#808080"/>
<rect x="148.00" y="338.10" width="6.6" height="6.6" fill="#1c1c1c"/>
<rect x="149.60" y="339.70" width="1.0" height="1.0" fill="#808080"/>
<rect x="152.00" y="339.70" width="1.0" height="1.0" fill="#808080"/>
<rect x="149.60" y="342.10" width="1.0" height="1.0" fill="#808080"/>
<rect x="152.00" y="342.10" width="1.0" height="1.0" fill="#808080"/>
<rect x="160.10" y="338.10" width="6.6" height="6.6" fill="#1c1c1c"/>
<rect x="161.70" y="339.70" width="1.0" height="1.0" fill="#808080"/>
<rect x="164.10" y="339.70" width="1.0" height="1.0" fill="#808080"/>
<rect x="161.70" y="342.10" width="1.0" height="1.0" fill="#808080"/>
<rect x="164.10" y="342.10" width="1.0" height="1.0" fill="#808080"/>
<rect x="176.10" y="338.10" width="6.6" height="6.6" fill="#1c1c1c"/>
<rect x="177.70" y="339.70" width="1.0" height="1.0" fill="#808080"/>
<rect x="180.10" y="339.70" width="1.0" height="1.0" fill="#808080"/>
<rect x="177.70" y="342.10" width="1.0" height="1.0" fill="#808080"/>
<rect x="180.10" y="342.10" width="1.0" height="1.0" fill="#808080"/>
<rect x="200.30" y="338.10" width="6.6" height="6.6" fill="#1c1c1c"/>
<rect x="201.90" y="339.70" width="1.0" height="1.0" fill="#808080"/>
<rect x="204.30" y="339.70" width="1.0" height="1.0" fill="#808080"/>
<rect x="201.90" y="342.10" width="1.0" height="1.0" fill="#808080"/>
<rect x="204.30" y="342.10" width="1.0" height="1.0" fill="#808080"/>
<rect x="228.40" y="338.10" width="6.6" height="6.6" fill="#1c1c1c"/>
<rect x="230.00" y="339.70" width="1.0" height="1.0" fill="#808080"/>
<rect x="232.40" y="339.70" width="1.0" height="1.0" fill="#808080"/>
<rect x="230.00" y="342.10" width="1.0" height="1.0" fill="#808080"/>
<rect x="232.40" y="342.10" width="1.0" height="1.0" fill="#808080"/>
<line x1="47.00" y1="235.50" x2="61.00" y2="235.50" stroke="#111" stroke-width="1.4" stroke-linecap="butt"/>
<text x="64.2" y="238.2" font-size="7.5" text-anchor="start" fill="#222" stroke="#222" stroke-width="0.3">0</text>
<line x1="47.00" y1="248.00" x2="61.00" y2="248.00" stroke="#111" stroke-width="1.4" stroke-linecap="butt"/>
<text x="64.2" y="250.7" font-size="7.5" text-anchor="start" fill="#222" stroke="#222" stroke-width="0.3">10</text>
<line x1="47.00" y1="260.70" x2="61.00" y2="260.70" stroke="#111" stroke-width="1.4" stroke-linecap="butt"/>
<text x="64.2" y="263.4" font-size="7.5" text-anchor="start" fill="#222" stroke="#222" stroke-width="0.3">100</text>
<line x1="47.00" y1="272.60" x2="61.00" y2="272.60" stroke="#111" stroke-width="1.4" stroke-linecap="butt"/>
<text x="64.2" y="275.3" font-size="7.5" text-anchor="start" fill="#222" stroke="#222" stroke-width="0.3">500</text>
<circle cx="53.70" cy="235.50" r="3.0" fill="#fff" stroke="#111" stroke-width="1.3"/>
<line x1="51.60" y1="233.40" x2="55.80" y2="237.60" stroke="#111" stroke-width="1.1" stroke-linecap="butt"/>
<line x1="51.60" y1="237.60" x2="55.80" y2="233.40" stroke="#111" stroke-width="1.1" stroke-linecap="butt"/>
<rect x="50.50" y="244.80" width="6.4" height="6.4" fill="#1c1c1c"/>
<rect x="52.00" y="246.30" width="1.0" height="1.0" fill="#808080"/>
<rect x="54.40" y="246.30" width="1.0" height="1.0" fill="#808080"/>
<rect x="52.00" y="248.70" width="1.0" height="1.0" fill="#808080"/>
<rect x="54.40" y="248.70" width="1.0" height="1.0" fill="#808080"/>
<polygon points="53.70,257.40 56.60,262.70 50.80,262.70" fill="#fff" stroke="#111" stroke-width="1.3" stroke-linejoin="miter"/>
<polygon points="53.70,275.90 56.60,270.60 50.80,270.60" fill="#fff" stroke="#111" stroke-width="1.3" stroke-linejoin="miter"/>
<polygon points="90.30,231.90 93.90,235.50 90.30,239.10 86.70,235.50" fill="#c4c4c4" stroke="#111" stroke-width="1.3"/>
<line x1="86.80" y1="248.00" x2="93.80" y2="248.00" stroke="#111" stroke-width="1.3" stroke-linecap="butt"/>
<line x1="87.83" y1="245.53" x2="92.77" y2="250.47" stroke="#111" stroke-width="1.3" stroke-linecap="butt"/>
<line x1="90.30" y1="244.50" x2="90.30" y2="251.50" stroke="#111" stroke-width="1.3" stroke-linecap="butt"/>
<line x1="92.77" y1="245.53" x2="87.83" y2="250.47" stroke="#111" stroke-width="1.3" stroke-linecap="butt"/>
<rect x="87.35" y="257.25" width="6.1" height="6.1" fill="#fff" stroke="#111" stroke-width="1.3"/>
<text x="100.9" y="238.2" font-size="7.5" text-anchor="start" fill="#222" stroke="#222" stroke-width="0.3">1000</text>
<text x="100.9" y="250.7" font-size="7.5" text-anchor="start" fill="#222" stroke="#222" stroke-width="0.3">5000</text>
<text x="100.9" y="263.4" font-size="7.5" text-anchor="start" fill="#222" stroke="#222" stroke-width="0.3">25000</text>
</svg>
</body></html>
